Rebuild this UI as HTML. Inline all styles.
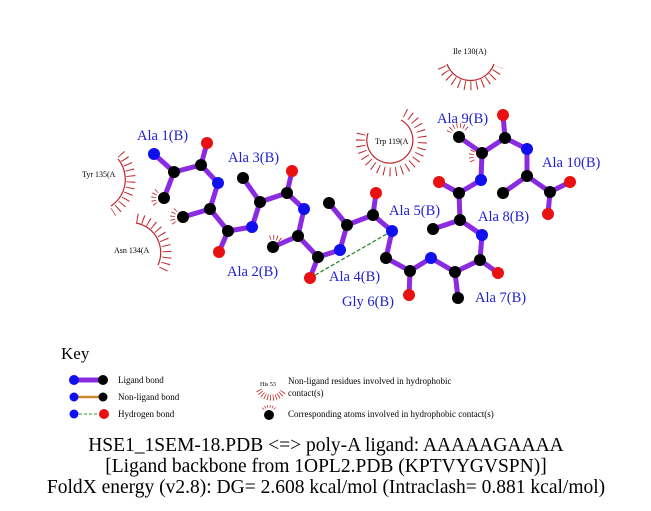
<!DOCTYPE html>
<html><head><style>body{margin:0;background:#fff}svg{display:block}</style></head><body>
<svg width="651" height="511" viewBox="0 0 651 511" xmlns="http://www.w3.org/2000/svg" font-family="Liberation Serif, serif">
<!-- hydrophobic arcs -->
<g fill="none" stroke="#c0262a">
<path d="M118,159 A32,32 0 0 1 111,206" stroke-width="1.2"/>
<path d="M121,154 A38,38 0 0 1 113,212" stroke-width="9" stroke-dasharray="1 5"/>
<path d="M136,223 A30,30 0 0 1 158,265" stroke-width="1.2"/>
<path d="M137,218 A36,36 0 0 1 163,270" stroke-width="9" stroke-dasharray="1 5"/>
<path d="M401,120 A23,23 0 1 1 368,133" stroke-width="1.2"/>
<path d="M405,113 A31,31 0 1 1 362,131" stroke-width="9" stroke-dasharray="1 5"/>
<path d="M447,64 A25,25 0 0 0 494,64" stroke-width="1.2"/>
<path d="M442,67 A31,31 0 0 0 499,67" stroke-width="9" stroke-dasharray="1 5"/>
</g>
<g fill="#000" font-size="8">
<text x="82" y="177">Tyr 135(A</text>
<text x="114" y="253">Asn 134(A</text>
<text x="375" y="144">Trp 119(A</text>
<text x="453" y="54">Ile 130(A)</text>
</g>
<!-- atom hydrophobic marks -->
<g fill="none" stroke="#c0262a" stroke-width="5" stroke-dasharray="0.8 2.6">
<path d="M157,191 A10,10 0 0 0 157,206"/>
<path d="M176,210 A10,10 0 0 0 176,225"/>
<path d="M270,238 A10,10 0 0 1 282,242"/>
<path d="M449,132 A11,11 0 0 1 467,129"/>
<path d="M475,148 A11,11 0 0 0 473,162"/>
</g>
<!-- bonds -->
<g stroke="#8a2be2" stroke-width="5" stroke-linecap="round" fill="none">
<polyline points="154,154 174,172 201,165 218,183 210,209 228,231 252,227 260,202 287,193 304,209 298,236 318,257 340,250 347,225 373,215 392,231 386,258 410,271 431,258 455,272 480,260 482,235 460,220 459,193 481,180 482,153 505,138 527,149 527,176 550,192 570,182"/>
<line x1="174" y1="172" x2="164" y2="198"/><line x1="201" y1="165" x2="207" y2="143"/>
<line x1="210" y1="209" x2="183" y2="217"/><line x1="228" y1="231" x2="219" y2="252"/>
<line x1="260" y1="202" x2="243" y2="178"/><line x1="287" y1="193" x2="292" y2="171"/>
<line x1="298" y1="236" x2="273" y2="247"/><line x1="318" y1="257" x2="310" y2="278"/>
<line x1="347" y1="225" x2="329" y2="203"/><line x1="373" y1="215" x2="376" y2="193"/>
<line x1="410" y1="271" x2="409" y2="295"/><line x1="455" y1="272" x2="458" y2="298"/>
<line x1="480" y1="260" x2="498" y2="273"/><line x1="460" y1="220" x2="433" y2="229"/>
<line x1="459" y1="193" x2="439" y2="182"/><line x1="482" y1="153" x2="459" y2="137"/>
<line x1="505" y1="138" x2="503" y2="115"/><line x1="527" y1="176" x2="503" y2="193"/>
<line x1="550" y1="192" x2="548" y2="214"/>
</g>
<line x1="310" y1="278" x2="392" y2="231" stroke="#2e8b2e" stroke-width="1.3" stroke-dasharray="4 2"/>
<!-- atoms -->
<g fill="#000">
<circle cx="174" cy="172" r="6"/><circle cx="164" cy="198" r="6"/><circle cx="201" cy="165" r="6"/>
<circle cx="210" cy="209" r="6"/><circle cx="183" cy="217" r="6"/><circle cx="228" cy="231" r="6"/>
<circle cx="260" cy="202" r="6"/><circle cx="243" cy="178" r="6"/><circle cx="287" cy="193" r="6"/>
<circle cx="298" cy="236" r="6"/><circle cx="273" cy="247" r="6"/><circle cx="318" cy="257" r="6"/>
<circle cx="347" cy="225" r="6"/><circle cx="329" cy="203" r="6"/><circle cx="373" cy="215" r="6"/>
<circle cx="386" cy="258" r="6"/><circle cx="410" cy="271" r="6"/><circle cx="455" cy="272" r="6"/>
<circle cx="458" cy="298" r="6"/><circle cx="480" cy="260" r="6"/><circle cx="460" cy="220" r="6"/>
<circle cx="433" cy="229" r="6"/><circle cx="459" cy="193" r="6"/><circle cx="482" cy="153" r="6"/>
<circle cx="459" cy="137" r="6"/><circle cx="505" cy="138" r="6"/><circle cx="527" cy="176" r="6"/>
<circle cx="503" cy="193" r="6"/><circle cx="550" cy="192" r="6"/>
</g>
<g fill="#1010ee">
<circle cx="154" cy="154" r="6"/><circle cx="218" cy="183" r="6"/><circle cx="252" cy="227" r="6"/>
<circle cx="304" cy="209" r="6"/><circle cx="340" cy="250" r="6"/><circle cx="392" cy="231" r="6"/>
<circle cx="431" cy="258" r="6"/><circle cx="482" cy="235" r="6"/><circle cx="481" cy="180" r="6"/>
<circle cx="527" cy="149" r="6"/>
</g>
<g fill="#e81010">
<circle cx="207" cy="143" r="6"/><circle cx="219" cy="252" r="6"/><circle cx="292" cy="171" r="6"/>
<circle cx="310" cy="278" r="6"/><circle cx="376" cy="193" r="6"/><circle cx="409" cy="295" r="6"/>
<circle cx="498" cy="273" r="6"/><circle cx="439" cy="182" r="6"/><circle cx="503" cy="115" r="6"/>
<circle cx="570" cy="182" r="6"/><circle cx="548" cy="214" r="6"/>
</g>
<!-- residue labels -->
<g fill="#2020d0" font-size="14.5">
<text x="137" y="140">Ala 1(B)</text>
<text x="228" y="162">Ala 3(B)</text>
<text x="227" y="276">Ala 2(B)</text>
<text x="329" y="281">Ala 4(B)</text>
<text x="342" y="306">Gly 6(B)</text>
<text x="389" y="215">Ala 5(B)</text>
<text x="475" y="302">Ala 7(B)</text>
<text x="478" y="221">Ala 8(B)</text>
<text x="437" y="123">Ala 9(B)</text>
<text x="542" y="167">Ala 10(B)</text>
</g>
<!-- key -->
<text x="61" y="359" font-size="17">Key</text>
<line x1="74" y1="380" x2="103" y2="380" stroke="#8a2be2" stroke-width="5"/>
<circle cx="74" cy="380" r="5" fill="#1010ee"/><circle cx="103" cy="380" r="5" fill="#000"/>
<line x1="74" y1="397" x2="103" y2="397" stroke="#c98a2a" stroke-width="2.5"/>
<circle cx="74" cy="397" r="4.5" fill="#1010ee"/><circle cx="103" cy="397" r="4.5" fill="#000"/>
<line x1="74" y1="414" x2="103" y2="414" stroke="#2e8b2e" stroke-width="1" stroke-dasharray="3 2"/>
<circle cx="74" cy="414" r="4.5" fill="#1010ee"/><circle cx="104" cy="414" r="5" fill="#e81010"/>
<g font-size="9" fill="#000">
<text x="118" y="383">Ligand bond</text>
<text x="118" y="400">Non-ligand bond</text>
<text x="118" y="417">Hydrogen bond</text>
<text x="260" y="386" font-size="6">His 53</text>
<text x="288" y="384">Non-ligand residues involved in hydrophobic</text>
<text x="288" y="396">contact(s)</text>
<text x="288" y="417">Corresponding atoms involved in hydrophobic contact(s)</text>
</g>
<path d="M259,390 A14,14 0 0 0 284,390" fill="none" stroke="#c0262a" stroke-width="6" stroke-dasharray="0.8 2"/>
<circle cx="269" cy="415" r="5" fill="#000"/>
<path d="M263,409 A8,8 0 0 1 275,409" fill="none" stroke="#c0262a" stroke-width="3" stroke-dasharray="0.7 1.8"/>
<!-- titles -->
<g font-size="19.5" fill="#000" text-anchor="middle">
<text x="326" y="451">HSE1_1SEM-18.PDB &lt;=&gt; poly-A ligand: AAAAAGAAAA</text>
<text x="326" y="472">[Ligand backbone from 1OPL2.PDB (KPTVYGVSPN)]</text>
<text x="326" y="493">FoldX energy (v2.8): DG= 2.608 kcal/mol (Intraclash= 0.881 kcal/mol)</text>
</g>
</svg>
</body></html>
